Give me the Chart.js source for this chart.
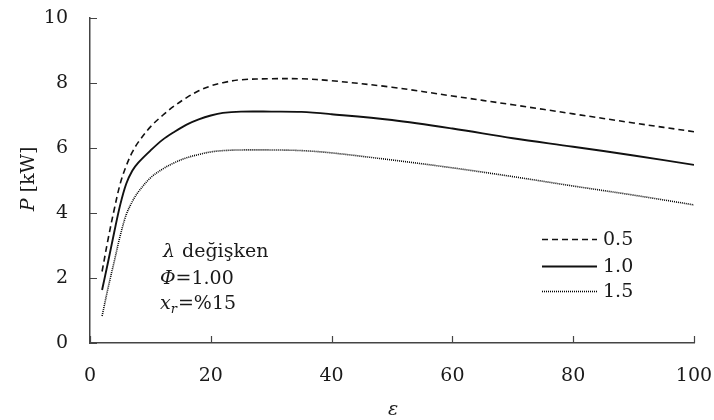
<!DOCTYPE html>
<html><head><meta charset="utf-8">
<script src="https://cdn.jsdelivr.net/npm/chart.js@4/dist/chart.umd.min.js"></script>
<style>html,body{margin:0;padding:0;background:#fff}#wrap{width:714px;height:420px}</style>
</head><body><div id="wrap"><canvas id="c" width="714" height="420"></canvas></div>
<script>
const eps = [2,3,4,5,6,7,8,10,12,14,16,18,20,22,25,30,35,40,50,60,70,80,90,100];
const p05 = [2.2,3.2,4.1,4.9,5.45,5.87,6.18,6.65,7.0,7.3,7.55,7.76,7.91,8.01,8.1,8.13,8.13,8.07,7.87,7.6,7.33,7.05,6.77,6.5];
const p10 = [1.63,2.5,3.4,4.25,4.9,5.3,5.55,5.92,6.25,6.5,6.72,6.88,7.0,7.08,7.12,7.12,7.11,7.04,6.86,6.6,6.3,6.04,5.77,5.48];
const p15 = [0.83,1.7,2.5,3.3,3.95,4.35,4.65,5.08,5.35,5.55,5.7,5.8,5.88,5.92,5.94,5.94,5.92,5.85,5.63,5.39,5.12,4.83,4.55,4.25];
const seriesLabels = ['0.5','1.0','1.5'];
const xTicks = [0,20,40,60,80,100];
const yTicks = [0,2,4,6,8,10];
const FONT = 'DejaVu Serif';
const TXT = '#1a1a1a';
const AX = '#444';

function pts(ys){ return eps.map((e,i)=>({x:e,y:ys[i]})); }

const overlay = {
  id:'overlay',
  afterDraw(chart){
    const ctx = chart.ctx, xs = chart.scales.x, ys = chart.scales.y;
    ctx.save();
    // inward ticks
    ctx.strokeStyle = AX; ctx.lineWidth = 1.2;
    ctx.beginPath();
    xTicks.forEach(v=>{const p=Math.round(xs.getPixelForValue(v))+0.5; ctx.moveTo(p,ys.bottom); ctx.lineTo(p,ys.bottom-7);});
    yTicks.forEach(v=>{const p=Math.round(ys.getPixelForValue(v))+0.5; ctx.moveTo(xs.left,p); ctx.lineTo(xs.left+7,p);});
    ctx.stroke();
    // legend
    const rows=[239,266,291];
    chart.data.datasets.forEach((ds,i)=>{
      ctx.save();
      ctx.strokeStyle = ds.borderColor; ctx.lineWidth = ds.borderWidth;
      ctx.setLineDash(ds.borderDash||[]);
      ctx.beginPath(); ctx.moveTo(542,rows[i]+0.5); ctx.lineTo(597,rows[i]+0.5); ctx.stroke();
      ctx.restore();
      ctx.fillStyle = TXT; ctx.font = '19px "'+FONT+'"';
      ctx.textAlign='left'; ctx.textBaseline='middle';
      ctx.fillText(ds.label,603,rows[i]+1);
    });
    // annotation
    ctx.fillStyle = TXT; ctx.textBaseline='alphabetic'; ctx.textAlign='left';
    ctx.font = 'italic 19px "'+FONT+'"';
    ctx.fillText('λ',163,257);
    ctx.font = '19px "'+FONT+'"';
    ctx.fillText('değişken',182,257);
    ctx.font = 'italic 19px "'+FONT+'"';
    ctx.fillText('Φ',160,284);
    let w = ctx.measureText('Φ').width;
    ctx.font = '19px "'+FONT+'"';
    ctx.fillText('=1.00',160+w,284);
    ctx.font = 'italic 19px "'+FONT+'"';
    ctx.fillText('x',160,309);
    w = ctx.measureText('x').width;
    ctx.font = 'italic 13px "'+FONT+'"';
    ctx.fillText('r',160+w,313);
    const w2 = ctx.measureText('r').width;
    ctx.font = '19px "'+FONT+'"';
    ctx.fillText('=%15',160+w+w2+1,309);
    // y title
    ctx.save();
    ctx.translate(29,179); ctx.rotate(-Math.PI/2);
    ctx.textBaseline='middle';
    ctx.font = 'italic 19px "'+FONT+'"';
    const wp = ctx.measureText('P ').width;
    ctx.font = '19px "'+FONT+'"';
    const wk = ctx.measureText('[kW]').width;
    const tot = wp+wk;
    ctx.font = 'italic 19px "'+FONT+'"';
    ctx.fillText('P',-tot/2,0);
    ctx.font = '19px "'+FONT+'"';
    ctx.fillText('[kW]',-tot/2+wp,0);
    ctx.restore();
    // x title
    ctx.font = 'italic 19px "'+FONT+'"';
    ctx.textAlign='center'; ctx.textBaseline='middle';
    ctx.fillText('ε',(xs.left+xs.right)/2+1,410);
    ctx.restore();
  }
};

new Chart(document.getElementById('c'),{
  type:'line',
  data:{datasets:[
    {label:seriesLabels[0],data:pts(p05),borderColor:'#111',borderWidth:1.6,borderDash:[6,4],pointRadius:0,tension:0.35,fill:false},
    {label:seriesLabels[1],data:pts(p10),borderColor:'#111',borderWidth:1.9,borderDash:[],pointRadius:0,tension:0.35,fill:false},
    {label:seriesLabels[2],data:pts(p15),borderColor:'#000',borderWidth:1.6,borderDash:[1,1],pointRadius:0,tension:0.35,fill:false}
  ]},
  options:{
    responsive:false,animation:false,devicePixelRatio:1,
    layout:{padding:{top:18,right:20,left:0,bottom:0}},
    plugins:{legend:{display:false},tooltip:{enabled:false}},
    scales:{
      x:{type:'linear',min:0,max:100,
        afterBuildTicks(s){s.ticks=xTicks.map(v=>({value:v}));},
        afterFit(s){s.height=77;s.paddingLeft=0;s.paddingRight=0;},
        grid:{display:true,drawOnChartArea:false,drawTicks:false,tickLength:0},
        border:{color:AX,width:1.5},
        ticks:{color:TXT,padding:22,font:{family:FONT,size:19},maxRotation:0}},
      y:{type:'linear',min:0,max:10,
        afterBuildTicks(s){s.ticks=yTicks.map(v=>({value:v}));},
        afterFit(s){s.width=90;s.paddingTop=0;s.paddingBottom=0;},
        grid:{display:true,drawOnChartArea:false,drawTicks:false,tickLength:0},
        border:{color:AX,width:1.5},
        ticks:{color:TXT,padding:22,font:{family:FONT,size:19}}}
    }
  },
  plugins:[overlay]
});
</script></body></html>
